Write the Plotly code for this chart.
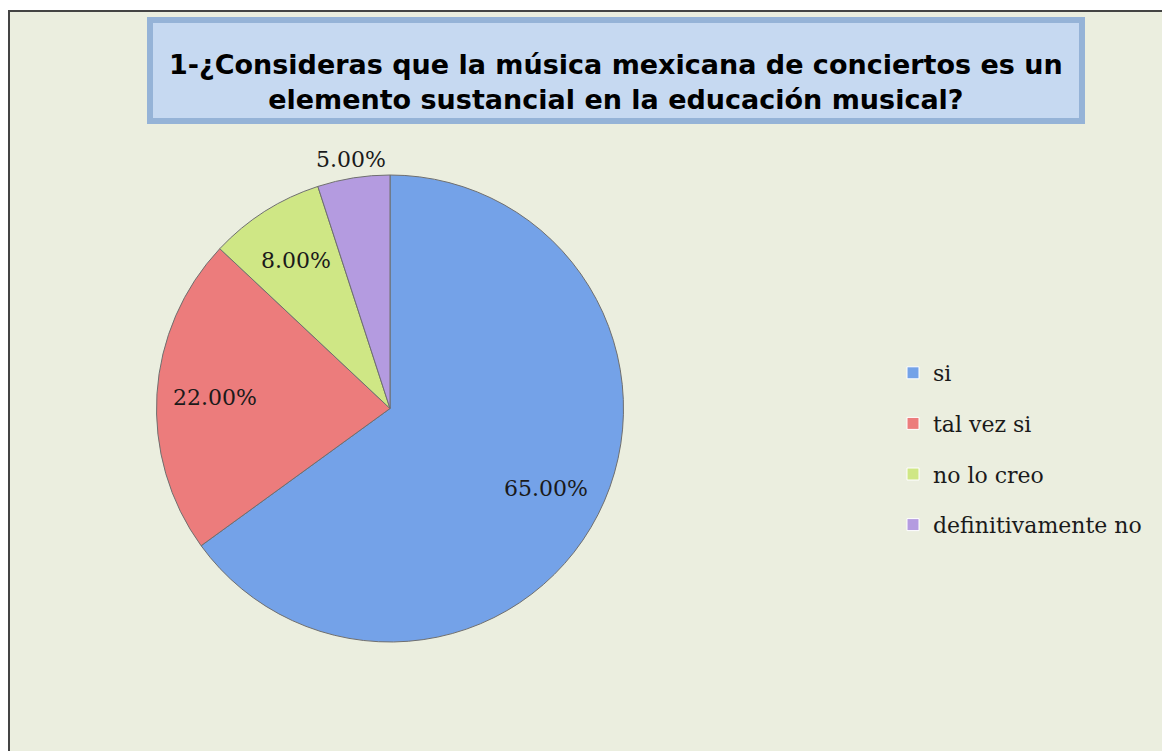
import math
import plotly.graph_objects as go

categories = ["si", "tal vez si", "no lo creo", "definitivamente no"]
values = [65.0, 22.0, 8.0, 5.0]
colors = ["#74A2E8", "#EC7C7C", "#CFE785", "#B49BE0"]
title_lines = ["1-¿Consideras que la música mexicana de conciertos es un",
               "elemento sustancial en la educación musical?"]

# page geometry (the html body adds an 8px margin)
OFF = 8
W, H = 1162, 743

def px_x(x):
    return (x - OFF) / W

def px_y(y):
    return 1 - (y - OFF) / H

# pie placement in page pixels
PIE_L, PIE_R, PIE_T, PIE_B = 156, 624, 175, 642
CX, CY = (PIE_L + PIE_R) / 2, (PIE_T + PIE_B) / 2
R = min(PIE_R - PIE_L, PIE_B - PIE_T) / 2

fig = go.Figure()
fig.add_trace(go.Pie(
    labels=categories, values=values, sort=False, direction="clockwise", rotation=0,
    marker=dict(colors=colors, line=dict(color="#6F6F6F", width=1)),
    textinfo="none", showlegend=False, hoverinfo="label+value",
    domain=dict(x=[px_x(PIE_L), px_x(PIE_R)], y=[px_y(PIE_B), px_y(PIE_T)]),
))

# data labels placed at each slice's mid-angle (Excel "best fit" style)
total = sum(values)
label_annotations = []
cum = 0.0
for v in values:
    frac = v / total
    mid = (cum + frac / 2) * 2 * math.pi
    cum += frac
    rr = R * (0.75 if frac > 0.06 else 1.08)
    lx = CX + rr * math.sin(mid)
    ly = CY - rr * math.cos(mid)
    label_annotations.append(dict(
        text=f"{v:.2f}%", xref="paper", yref="paper", x=px_x(lx), y=px_y(ly),
        xanchor="center", yanchor="middle", showarrow=False,
        font=dict(family="DejaVu Serif", size=22, color="#1a1a1a")))

for i, (c, col) in enumerate(zip(categories, colors)):
    fig.add_trace(go.Scatter(
        x=[None], y=[None], mode="markers", name=c, legendgroup=f"g{i}",
        marker=dict(symbol="square", size=12, color=col, line=dict(color="#ffffff", width=1)),
        showlegend=True,
    ))

fig.update_layout(
    width=W, height=H,
    margin=dict(l=0, r=0, t=0, b=0),
    paper_bgcolor="#FFFFFF",
    plot_bgcolor="rgba(0,0,0,0)",
    xaxis=dict(visible=False, domain=[0.98, 0.99]),
    yaxis=dict(visible=False, domain=[0.01, 0.02]),
    legend=dict(x=px_x(893), y=px_y(352), xanchor="left", yanchor="top",
                font=dict(family="DejaVu Serif", size=22, color="#1a1a1a"),
                tracegroupgap=19, itemwidth=30, bgcolor="rgba(0,0,0,0)"),
    shapes=[
        dict(type="rect", xref="paper", yref="paper", x0=px_x(9), x1=px_x(1168),
             y0=px_y(770), y1=px_y(11), fillcolor="#EBEEDF",
             line=dict(color="#444444", width=2), layer="below"),
        dict(type="rect", xref="paper", yref="paper", x0=px_x(150), x1=px_x(1082),
             y0=px_y(121), y1=px_y(20), fillcolor="#C6D9F1",
             line=dict(color="#95B3D7", width=6), layer="below"),
    ],
    annotations=[
        dict(text="<b>" + "<br>".join(title_lines) + "</b>", xref="paper", yref="paper",
             x=px_x(616), y=px_y(82), xanchor="center", yanchor="middle", showarrow=False,
             font=dict(family="DejaVu Sans", size=27, color="#000000"), align="center"),
    ] + label_annotations,
)

fig.write_html("out.html")
